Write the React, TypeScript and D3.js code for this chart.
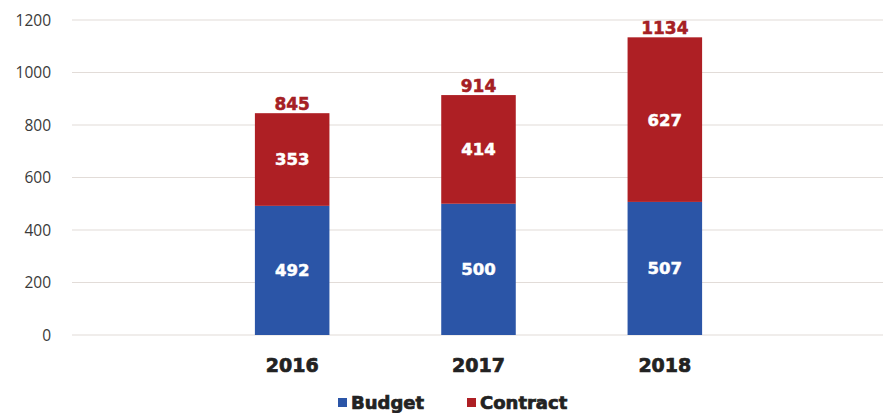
import React from "react";
import * as d3 from "d3";

const years = ["2016", "2017", "2018"];
const budget = [492, 500, 507];
const contract = [353, 414, 627];
const totals = [845, 914, 1134];
const yTicks = [0, 200, 400, 600, 800, 1000, 1200];
const seriesNames = ["Budget", "Contract"];

const W = 883;
const H = 413;
const BLUE = "#2b55a7";
const RED = "#ae1f24";
const TOTAL_RED = "#a52024";
const boldFont = "'DejaVu Sans', sans-serif";

export default function App() {
  const y = d3.scaleLinear().domain([0, 1200]).range([335, 20]);
  const x = d3.scaleBand<string>().domain(years).range([199, 758]).paddingInner(0.6).paddingOuter(0.3);
  const bw = x.bandwidth();
  const colors = [BLUE, RED];

  const stackData = years.map((yr, i) => ({ year: yr, Budget: budget[i], Contract: contract[i] }));
  const stacked = d3.stack<any>().keys(seriesNames)(stackData);

  return (
    <svg width={W} height={H} style={{ position: "absolute", left: 0, top: 0, background: "#fff" }}>
      {yTicks.map((t) => (
        <g key={t}>
          <line x1={72} x2={W} y1={y(t)} y2={y(t)} stroke="#e2dcd8" strokeWidth={1.2} />
          <text x={51} y={y(t)} dy="0.36em" textAnchor="end" fontFamily="'Open Sans', sans-serif" fontSize={15.5} fill="#3a3a3a">
            {t}
          </text>
        </g>
      ))}
      {stacked.map((layer, li) => (
        <g key={layer.key}>
          {layer.map((d, i) => {
            const x0 = x(years[i])!;
            const top = y(d[1]);
            const bot = y(d[0]);
            const val = d[1] - d[0];
            return (
              <g key={i}>
                <rect x={x0} y={top} width={bw} height={bot - top} fill={colors[li]} />
                <text
                  x={x0 + bw / 2}
                  y={(top + bot) / 2}
                  dy="0.36em"
                  textAnchor="middle"
                  fontFamily={boldFont}
                  fontWeight="bold"
                  fontSize={16.5}
                  fill="#fff"
                  stroke="#fff"
                  strokeWidth={0.5}
                >
                  {val}
                </text>
              </g>
            );
          })}
        </g>
      ))}
      {years.map((yr, i) => (
        <text
          key={"t" + yr}
          x={x(yr)! + bw / 2}
          y={y(totals[i]) - 3.5}
          textAnchor="middle"
          fontFamily={boldFont}
          fontWeight="bold"
          fontSize={17}
          fill={TOTAL_RED}
          stroke={TOTAL_RED}
          strokeWidth={0.5}
        >
          {totals[i]}
        </text>
      ))}
      {years.map((yr) => (
        <text
          key={"x" + yr}
          x={x(yr)! + bw / 2}
          y={372}
          textAnchor="middle"
          fontFamily={boldFont}
          fontWeight="bold"
          fontSize={19}
          fill="#222"
          stroke="#222"
          strokeWidth={0.7}
        >
          {yr}
        </text>
      ))}
      {seriesNames.map((name, i) => {
        const lx = [338, 467][i];
        return (
          <g key={name}>
            <rect x={lx} y={398} width={9} height={9} fill={colors[i]} />
            <text
              x={lx + 13}
              y={409}
              fontFamily={boldFont}
              fontWeight="bold"
              fontSize={18}
              fill="#222"
              stroke="#222"
              strokeWidth={0.7}
            >
              {name}
            </text>
          </g>
        );
      })}
    </svg>
  );
}
